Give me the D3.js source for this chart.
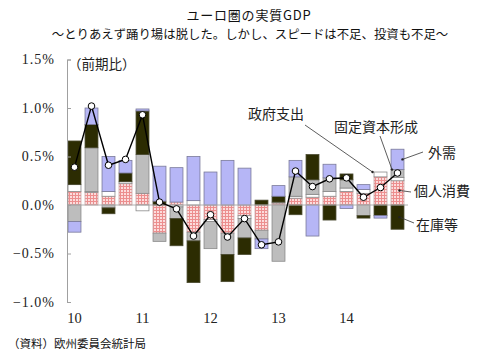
<!DOCTYPE html>
<html><head><meta charset="utf-8">
<script src="https://cdn.jsdelivr.net/npm/d3@7"></script>
<style>
html,body{margin:0;padding:0;background:#fff;}
svg{display:block;}
</style></head>
<body>
<svg id="c" width="498" height="353"></svg>
<script>
// ---- data (contribution to q/q real GDP growth, %pt) ----
const quarters = ["10Q1","10Q2","10Q3","10Q4","11Q1","11Q2","11Q3","11Q4","12Q1","12Q2","12Q3","12Q4","13Q1","13Q2","13Q3","13Q4","14Q1","14Q2","14Q3","14Q4"];
const yearLabels = ["10","11","12","13","14"];
const yearTickQuarters = ["10Q1","11Q1","12Q1","13Q1","14Q1"];
const consumption = [0.14,0.13,0.09,0.22,0.12,-0.29,0.03,-0.28,-0.15,-0.29,-0.11,-0.26,0.02,0.07,0.08,0.09,0.14,0.12,0.29,0.25];
const government  = [0.07,0.01,0.05,0.02,-0.06,0.00,-0.02,0.045,-0.02,0.00,-0.03,0.00,0.01,0.02,0.03,0.05,0.035,0.04,0.05,0.035];
const investment  = [-0.17,0.45,-0.03,0.00,0.40,-0.085,-0.12,-0.09,-0.28,-0.22,-0.20,-0.09,-0.58,0.20,0.15,0.14,0.085,-0.11,0.00,0.08];
const inventory   = [0.45,0.24,-0.06,0.09,0.45,0.04,-0.28,-0.43,0.00,-0.28,-0.17,0.05,0.06,-0.10,0.26,-0.155,0.06,-0.025,-0.11,-0.25];
const netExports  = [-0.11,0.17,0.36,0.13,0.02,0.36,0.355,0.455,0.34,0.46,0.38,-0.10,0.11,0.17,-0.32,0.14,-0.035,0.05,-0.025,0.21];
const gdp         = [0.39,1.02,0.41,0.47,0.93,0.03,-0.04,-0.32,-0.10,-0.33,-0.14,-0.41,-0.38,0.35,0.19,0.27,0.28,0.08,0.18,0.33];
const yTicks = [-1,-0.5,0,0.5,1,1.5];

const keys = ["cons","gov","gfcf","inv","nx"];
const rows = quarters.map((q,i)=>({q, cons:consumption[i], gov:government[i], gfcf:investment[i], inv:inventory[i], nx:netExports[i], gdp:gdp[i]}));

const svg = d3.select("#c");
const defs = svg.append("defs");
const pat = defs.append("pattern").attr("id","check").attr("patternUnits","userSpaceOnUse")
  .attr("width",3).attr("height",3);
pat.append("rect").attr("width",3).attr("height",3).attr("fill","#fcdcdc");
pat.append("rect").attr("width",3).attr("height",1).attr("fill","#ec8e8e");
pat.append("rect").attr("width",1).attr("height",3).attr("fill","#ec8e8e");

const fills = {cons:"url(#check)", gov:"#ffffff", gfcf:"#bdbdbd", inv:"#2c2c02", nx:"#b6b6f6"};
const strokes = {cons:"#c8a0a0", gov:"#8a8a8a", gfcf:"#8a8a8a", inv:"#4a4a30", nx:"#7a7a9a"};

const x = d3.scaleBand().domain(quarters).range([66,406]).paddingInner(0.18).paddingOuter(0.09);
const y = d3.scaleLinear().domain([-1,1.5]).range([302,59.5]);

const series = d3.stack().keys(keys).offset(d3.stackOffsetDiverging)(rows);

// bars
const g = svg.append("g");
series.forEach(s=>{
  g.selectAll(null).data(s.filter(d=>Math.abs(d[1]-d[0])>0.001)).enter().append("rect")
   .attr("x",d=>x(d.data.q)+0.5)
   .attr("width",x.bandwidth()-1)
   .attr("y",d=>y(Math.max(d[0],d[1])))
   .attr("height",d=>Math.abs(y(d[0])-y(d[1])))
   .attr("fill",fills[s.key])
   .attr("stroke",strokes[s.key])
   .attr("stroke-width",0.8);
});

// zero line
svg.append("line").attr("x1",67).attr("x2",408).attr("y1",y(0)).attr("y2",y(0))
  .attr("stroke","#b0b0b0").attr("stroke-width",1);

// y axis
const yAxis = d3.axisLeft(y).tickValues(yTicks).tickSizeInner(-4).tickSizeOuter(-4).tickPadding(12)
  .tickFormat(d=>d3.format(".1f")(d)+"%");
const ya = svg.append("g").attr("transform","translate(67,0)").call(yAxis);
ya.select(".domain").attr("stroke","#a0a0a0");
ya.selectAll(".tick line").attr("stroke","#a0a0a0");
ya.selectAll(".tick text").attr("font-family","'Liberation Serif',serif").attr("font-size",14)
  .attr("letter-spacing","1px").attr("fill","#222");

// x axis labels
const xAxis = d3.axisBottom(x).tickValues(yearTickQuarters).tickSize(0).tickPadding(0)
  .tickFormat(q=>yearLabels[yearTickQuarters.indexOf(q)]);
const xa = svg.append("g").attr("transform","translate(0,313)").call(xAxis);
xa.select(".domain").remove();
xa.selectAll(".tick text").attr("font-family","'Liberation Serif',serif").attr("font-size",14.5).attr("fill","#222");

// GDP line
const cx = d=>x(d.q)+x.bandwidth()/2;
svg.append("path").datum(rows).attr("fill","none").attr("stroke","#000").attr("stroke-width",1.4)
  .attr("d",d3.line().x(cx).y(d=>y(d.gdp)));
svg.selectAll(null).data(rows).enter().append("circle")
  .attr("cx",cx).attr("cy",d=>y(d.gdp)).attr("r",3.3)
  .attr("fill","#fff").attr("stroke","#000").attr("stroke-width",1);

// titles
const jp = "'Noto Sans CJK JP','Noto Sans',sans-serif";
svg.append("text").attr("x",249).attr("y",14).attr("text-anchor","middle").attr("dominant-baseline","central")
  .attr("font-family",jp).attr("font-size",13).attr("letter-spacing","0.8px").attr("fill","#111").text("ユーロ圏の実質GDP");
svg.append("text").attr("x",250).attr("y",34).attr("text-anchor","middle").attr("dominant-baseline","central")
  .attr("font-family",jp).attr("font-size",12.4).attr("fill","#111").text("～とりあえず踊り場は脱した。しかし、スピードは不足、投資も不足～");
svg.append("text").attr("x",68).attr("y",63).attr("dominant-baseline","central")
  .attr("font-family",jp).attr("font-size",13.5).attr("fill","#222").text("（前期比）");
svg.append("text").attr("x",8).attr("y",343).attr("dominant-baseline","central")
  .attr("font-family",jp).attr("font-size",11.5).attr("fill","#111").text("（資料）欧州委員会統計局");

// annotations
const last = rows[rows.length-1], q3 = rows[rows.length-2];
const bx = q=>x(q), bw = x.bandwidth();
const ann = [
  {t:"政府支出", tx:248, ty:113, x1:305, y1:125, x2:bx(q3.q)-1, y2:y(q3.cons+q3.gov)},
  {t:"固定資本形成", tx:334, ty:126, x1:380, y1:136, x2:bx(last.q)+1.5, y2:y(last.cons+last.gov+last.gfcf)},
  {t:"外需", tx:428, ty:152, x1:423, y1:152, x2:bx(last.q)+bw-2, y2:y(last.cons+last.gov+last.gfcf+last.nx*0.5)},
  {t:"個人消費", tx:414, ty:190, x1:411, y1:192, x2:bx(last.q)+bw-5, y2:y(last.cons*0.6)},
  {t:"在庫等", tx:416, ty:224, x1:414, y1:223, x2:bx(last.q)+bw-5, y2:y(last.inv*0.5)}
];
ann.forEach(a=>{
  svg.append("line").attr("x1",a.x1).attr("y1",a.y1).attr("x2",a.x2).attr("y2",a.y2)
    .attr("stroke","#333").attr("stroke-width",0.8);
  svg.append("circle").attr("cx",a.x2).attr("cy",a.y2).attr("r",1.2).attr("fill","#222");
  svg.append("text").attr("x",a.tx).attr("y",a.ty).attr("dominant-baseline","central")
    .attr("font-family",jp).attr("font-size",14).attr("fill","#222").text(a.t);
});
</script>
</body></html>
